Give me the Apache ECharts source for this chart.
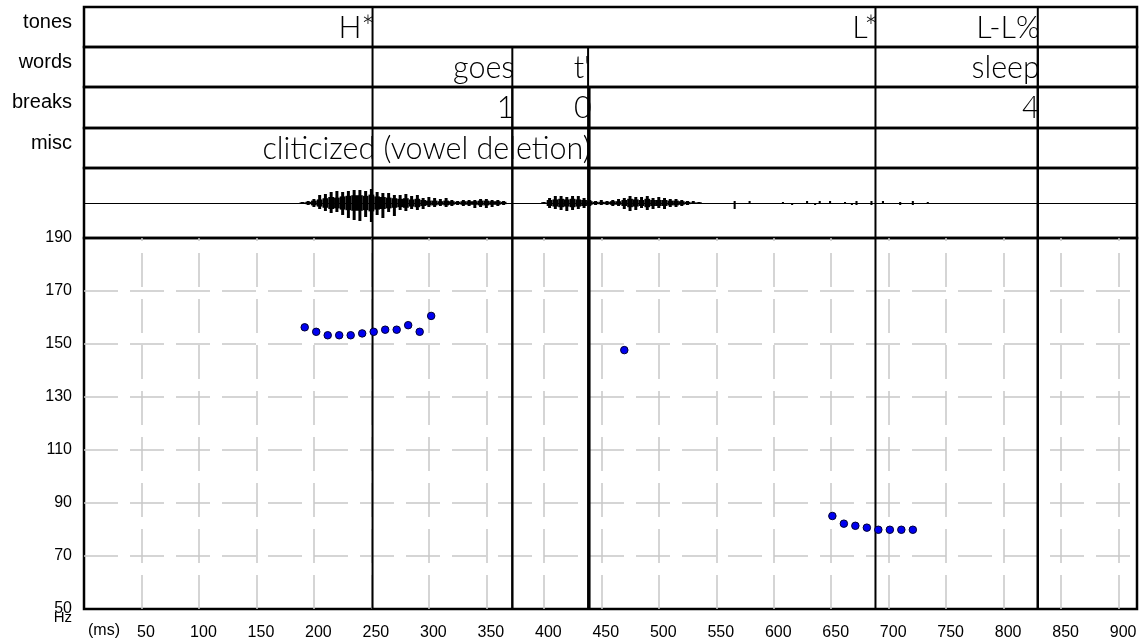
<!DOCTYPE html>
<html><head><meta charset="utf-8">
<script src="https://cdn.jsdelivr.net/npm/echarts@6/dist/echarts.min.js"></script>
<style>html,body{margin:0;padding:0;background:#fff}#c{width:1140px;height:643px}</style>
</head><body><div id="c"></div>
<script>
// ---------- data ----------
const tierNames = ['tones', 'words', 'breaks', 'misc'];
const toneTimes = [251, 688.5, 829.7];
const toneLabels = ['H*', 'L*', 'L-L%'];
const wordTimes = [372.6, 438.5, 829.7];
const wordLabels = ['goes', "t'", 'sleep'];
const breakTimes = [372.6, 439.8, 829.7];
const breakLabels = ['1', '0', '4'];
const miscTimes = [439];
const miscLabels = ['cliticized (vowel deletion)'];

const pitchTimes = [192, 202, 212, 222, 232, 242, 252, 262, 272, 282, 292, 302, 470, 651, 661, 671, 681, 691, 701, 711, 721];
const pitchHz = [156.3, 154.6, 153.3, 153.3, 153.3, 154.0, 154.6, 155.4, 155.4, 157.1, 154.6, 160.6, 147.7, 85.1, 82.2, 81.4, 80.7, 79.9, 79.9, 79.9, 79.9];

// waveform envelope: [time ms, upper amplitude, lower amplitude]
const waveEnvelope = [
  [190,1,1],[195,2,2],[200,4,4],[205,8,6],[210,9,8],[215,11,10],[220,12,9],[225,11,12],[230,12,15],[235,13,17],
  [240,13,18],[245,12,14],[250,14,19],[255,11,12],[260,10,15],[265,10,9],[270,8,13],[275,8,7],[280,9,8],[285,7,6],
  [290,8,7],[295,5,6],[300,6,4],[305,5,4],[310,4,3],[315,5,4],[320,3,3],[325,2,2],[330,3,3],[335,3,3],
  [340,3,5],[345,4,4],[350,4,5],[355,3,4],[360,3,3],[365,2,2],
  [400,1,1],[405,5,5],[410,7,6],[415,7,7],[420,6,8],[425,7,7],[430,7,6],[435,5,5],[440,3,3],[445,2,2],
  [450,3,2],[455,2,2],[460,3,3],[465,4,3],[470,5,6],[475,7,8],[480,6,7],[485,6,5],[490,7,7],[495,5,6],
  [500,6,5],[505,5,6],[510,4,4],[515,4,4],[520,3,3],[525,2,2],[530,2,1],[535,1,1]
];
const waveBlips = [
  [566,2,6],[579,2,0],[608,1,0],[616,0,2],[629,2,0],[636,0,2],[640,2,0],[649,2,1],[662,1,0],
  [668,0,2],[672,2,2],[685,2,2],[695,2,1],[710,1,2],[721,2,2],[734,1,0]
];

const hzTicks = [50, 70, 90, 110, 130, 150, 170, 190];
const msTicks = [50, 100, 150, 200, 250, 300, 350, 400, 450, 500, 550, 600, 650, 700, 750, 800, 850, 900];
const msMin = 0, msMax = 916, msStep = 50;

// ---------- layout ----------
const LEFT = 84, WIDTH = 1053;
const tierTops = [7, 47, 87, 128];
const tierH = [40, 40, 41, 40];
const WAVE_TOP = 168, WAVE_H = 70;
const PITCH_TOP = 238, PITCH_H = 371;
const FONT = "'Liberation Sans', Arial, sans-serif";
const LABEL_FONT = "Lato, 'Liberation Sans', Arial, sans-serif";
const WAVE_HALF = 2.5, SPIKE_HALF = 1.3, BLIP_HALF = 0.9;

const tierTimes = [toneTimes, wordTimes, breakTimes, miscTimes];
const tierLabels = [toneLabels, wordLabels, breakLabels, miscLabels];

const grids = [], xAxes = [], yAxes = [], series = [];
function hiddenX(i) {
  return { gridIndex: i, type: 'value', min: msMin, max: msMax, show: false };
}
function lineSeries(idx, times) {
  return {
    type: 'custom', xAxisIndex: idx, yAxisIndex: idx, silent: true, z: 5,
    data: times.map(t => [t, 0]),
    renderItem(params, api) {
      const cs = params.coordSys;
      const x = api.coord([api.value(0), 0])[0];
      return { type: 'line', shape: { x1: x, y1: cs.y, x2: x, y2: cs.y + cs.height },
               style: { stroke: '#000', lineWidth: 2 } };
    }
  };
}
let cumTimes = [];
tierNames.forEach((name, i) => {
  grids.push({ left: LEFT, width: WIDTH, top: tierTops[i], height: tierH[i], show: true,
               borderColor: '#000', borderWidth: 2.5, backgroundColor: 'transparent' });
  xAxes.push(hiddenX(i));
  yAxes.push({ gridIndex: i, type: 'category', data: [name],
    axisLine: { show: false }, axisTick: { show: false },
    axisLabel: { fontSize: 20, fontFamily: FONT, color: '#000', margin: 12, lineHeight: 10,
                 formatter: v => v + '\n ' } });
  cumTimes = cumTimes.concat(tierTimes[i]);
  series.push(lineSeries(i, cumTimes.slice()));
  const labs = tierLabels[i];
  series.push({
    type: 'custom', xAxisIndex: i, yAxisIndex: i, silent: true, z: 6,
    data: tierTimes[i].map(t => [t, 0]),
    renderItem(params, api) {
      const cs = params.coordSys;
      const x = api.coord([api.value(0), 0])[0];
      return { type: 'text', x: x + 2, y: cs.y + cs.height / 2 + 1,
        style: { text: labs[params.dataIndex], align: 'right', verticalAlign: 'middle',
                 fontSize: 30.5, fontWeight: 300, fontFamily: LABEL_FONT, fill: '#000' } };
    }
  });
});

// waveform grid (index 4)
grids.push({ left: LEFT, width: WIDTH, top: WAVE_TOP, height: WAVE_H, show: true,
             borderColor: '#000', borderWidth: 2.5, backgroundColor: 'transparent' });
xAxes.push({ gridIndex: 4, type: 'value', min: msMin, max: msMax,
  axisLine: { show: true, onZero: true, lineStyle: { color: '#000', width: 1 } },
  axisTick: { show: false }, axisLabel: { show: false }, splitLine: { show: false } });
yAxes.push({ gridIndex: 4, type: 'value', min: -35, max: 35, show: false });
series.push(lineSeries(4, cumTimes.slice()));
series.push({
  type: 'custom', xAxisIndex: 4, yAxisIndex: 4, silent: true, z: 4,
  data: waveEnvelope,
  renderItem(params, api) {
    const t = api.value(0), up = api.value(1), lo = api.value(2);
    const core = Math.min(up, lo) * 0.6;
    const a1 = api.coord([t - WAVE_HALF, core]), a2 = api.coord([t + WAVE_HALF, -core]);
    const b1 = api.coord([t - SPIKE_HALF, up]), b2 = api.coord([t + SPIKE_HALF, -lo]);
    return { type: 'group', children: [
      { type: 'rect', shape: { x: a1[0], y: a1[1], width: a2[0] - a1[0], height: Math.max(1, a2[1] - a1[1]) }, style: { fill: '#000' } },
      { type: 'rect', shape: { x: b1[0], y: b1[1], width: b2[0] - b1[0], height: Math.max(1, b2[1] - b1[1]) }, style: { fill: '#000' } }
    ] };
  }
});
series.push({
  type: 'custom', xAxisIndex: 4, yAxisIndex: 4, silent: true, z: 4,
  data: waveBlips,
  renderItem(params, api) {
    const t = api.value(0), up = api.value(1), lo = api.value(2);
    const p1 = api.coord([t - BLIP_HALF, up]), p2 = api.coord([t + BLIP_HALF, -lo]);
    return { type: 'rect', shape: { x: p1[0], y: p1[1], width: p2[0] - p1[0], height: Math.max(1, p2[1] - p1[1]) },
             style: { fill: '#000' } };
  }
});

// pitch grid (index 5)
grids.push({ left: LEFT, width: WIDTH, top: PITCH_TOP, height: PITCH_H, show: true,
             borderColor: '#000', borderWidth: 2.5, backgroundColor: 'transparent' });
xAxes.push({ gridIndex: 5, type: 'value', min: msMin, max: msMax, interval: msStep,
  axisLine: { show: false }, axisTick: { show: false },
  axisLabel: { fontSize: 16, fontFamily: FONT, color: '#000', margin: 16, padding: [0, 0, 0, 9],
               showMaxLabel: false, showMinLabel: true,
               formatter: v => msTicks.includes(v) ? String(v) : '' },
  splitLine: { show: true, showMinLine: false, showMaxLine: false,
               lineStyle: { color: '#c8c8c8', width: 1.5, type: [34, 12], dashOffset: 31 } } });
yAxes.push({ gridIndex: 5, type: 'value', min: hzTicks[0], max: hzTicks[hzTicks.length - 1],
  interval: hzTicks[1] - hzTicks[0],
  axisLine: { show: false }, axisTick: { show: false },
  axisLabel: { fontSize: 16, fontFamily: FONT, color: '#000', margin: 12,
               formatter: v => hzTicks.includes(v) ? String(v) : '' },
  splitLine: { show: true, showMinLine: false, showMaxLine: false,
               lineStyle: { color: '#c8c8c8', width: 1.5, type: [34, 12], dashOffset: 0 } } });
series.push(lineSeries(5, cumTimes.slice()));
series.push({
  type: 'scatter', xAxisIndex: 5, yAxisIndex: 5, z: 10, silent: true,
  symbol: 'circle', symbolSize: 7.5,
  itemStyle: { color: '#0000f0', borderColor: '#000033', borderWidth: 1, opacity: 1 },
  data: pitchTimes.map((t, i) => [t, pitchHz[i]])
});

const chart = echarts.init(document.getElementById('c'), null, { renderer: 'canvas' });
chart.setOption({
  animation: false,
  backgroundColor: '#fff',
  grid: grids, xAxis: xAxes, yAxis: yAxes, series: series,
  graphic: [
    { type: 'text', left: 88, top: 623, style: { text: '(ms)', fontSize: 16, fontFamily: FONT, fill: '#000' } },
    { type: 'text', right: 1140 - 72, top: 610, style: { text: 'Hz', fontSize: 15, fontFamily: FONT, fill: '#000' } }
  ]
});
</script></body></html>
